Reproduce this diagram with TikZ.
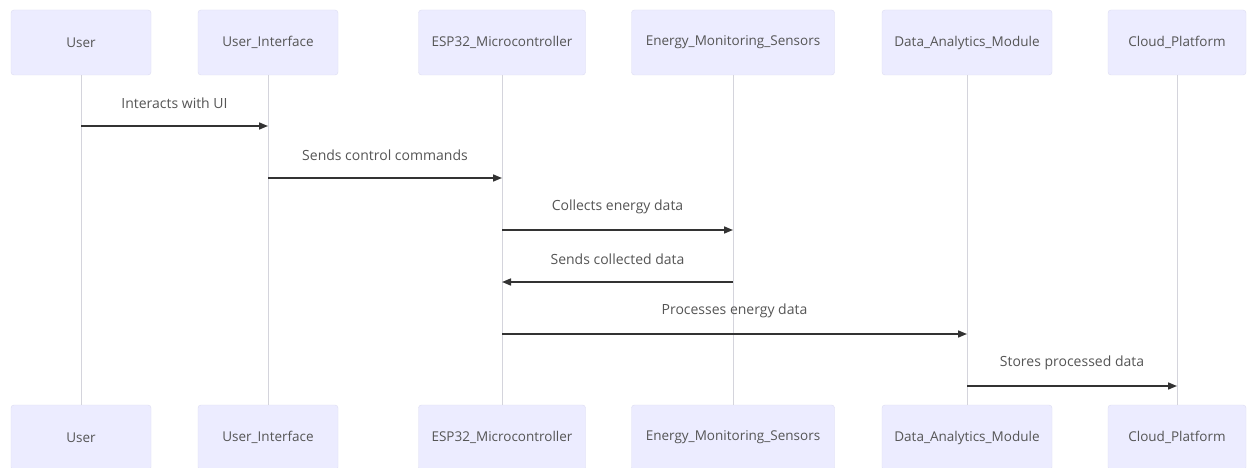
\documentclass[tikz,border=0pt]{standalone}
\usepackage{fontspec}
\setmainfont{Open Sans}
\usetikzlibrary{arrows.meta}
\definecolor{actfill}{HTML}{ECECFF}
\definecolor{actline}{HTML}{DDDDF2}
\definecolor{lifecol}{HTML}{D4D4DC}
\definecolor{msgcol}{HTML}{333333}
\definecolor{txtcol}{HTML}{555555}
\tikzset{
  actor/.style={draw=actline,fill=actfill,rounded corners=3pt,minimum height=65pt,
    font=\fontsize{13.5}{16}\selectfont,text=txtcol,inner sep=0pt},
  life/.style={draw=lifecol,line width=1pt},
  msg/.style={draw=msgcol,line width=1.6pt,-{Triangle[length=9pt,width=7pt]}},
  msgtext/.style={font=\fontsize{14}{16}\selectfont,text=txtcol}
}
\begin{document}
\begin{tikzpicture}[x=1pt,y=-1pt]
  \useasboundingbox[fill=white] (0,0) rectangle (1248,468);

  % participants, top row
  \node[actor,minimum width=140pt] (userT) at (81,42.5) {User};
  \node[actor,minimum width=140pt] (uiT) at (268,42.5) {User\_Interface};
  \node[actor,minimum width=167pt] (espT) at (502,42.5) {ESP32\_Microcontroller};
  \node[actor,minimum width=203pt] (senT) at (733,42.5) {Energy\_Monitoring\_Sensors};
  \node[actor,minimum width=170pt] (dataT) at (967,42.5) {Data\_Analytics\_Module};
  \node[actor,minimum width=138pt] (cloudT) at (1177,42.5) {Cloud\_Platform};

  % participants, bottom row
  \node[actor,minimum width=140pt] (userB) at (81,437.5) {User};
  \node[actor,minimum width=140pt] (uiB) at (268,437.5) {User\_Interface};
  \node[actor,minimum width=167pt] (espB) at (502,437.5) {ESP32\_Microcontroller};
  \node[actor,minimum width=203pt] (senB) at (733,437.5) {Energy\_Monitoring\_Sensors};
  \node[actor,minimum width=170pt] (dataB) at (967,437.5) {Data\_Analytics\_Module};
  \node[actor,minimum width=138pt] (cloudB) at (1177,437.5) {Cloud\_Platform};

  % lifelines
  \draw[life] (userT) -- (userB);
  \draw[life] (uiT) -- (uiB);
  \draw[life] (espT) -- (espB);
  \draw[life] (senT) -- (senB);
  \draw[life] (dataT) -- (dataB);
  \draw[life] (cloudT) -- (cloudB);

  % messages
  \coordinate (m1) at (0,126);
  \coordinate (m2) at (0,178);
  \coordinate (m3) at (0,230);
  \coordinate (m4) at (0,282);
  \coordinate (m5) at (0,334);
  \coordinate (m6) at (0,386);
  \draw[msg] (userT |- m1) -- (uiT |- m1) node[msgtext,midway,yshift=23pt] {Interacts with UI};
  \draw[msg] (uiT |- m2) -- (espT |- m2) node[msgtext,midway,yshift=23pt] {Sends control commands};
  \draw[msg] (espT |- m3) -- (senT |- m3) node[msgtext,midway,yshift=23pt] {Collects energy data};
  \draw[msg] (senT |- m4) -- (espT |- m4) node[msgtext,midway,yshift=23pt] {Sends collected data};
  \draw[msg] (espT |- m5) -- (dataT |- m5) node[msgtext,midway,yshift=23pt] {Processes energy data};
  \draw[msg] (dataT |- m6) -- (cloudT |- m6) node[msgtext,midway,yshift=23pt] {Stores processed data};
\end{tikzpicture}
\end{document}
